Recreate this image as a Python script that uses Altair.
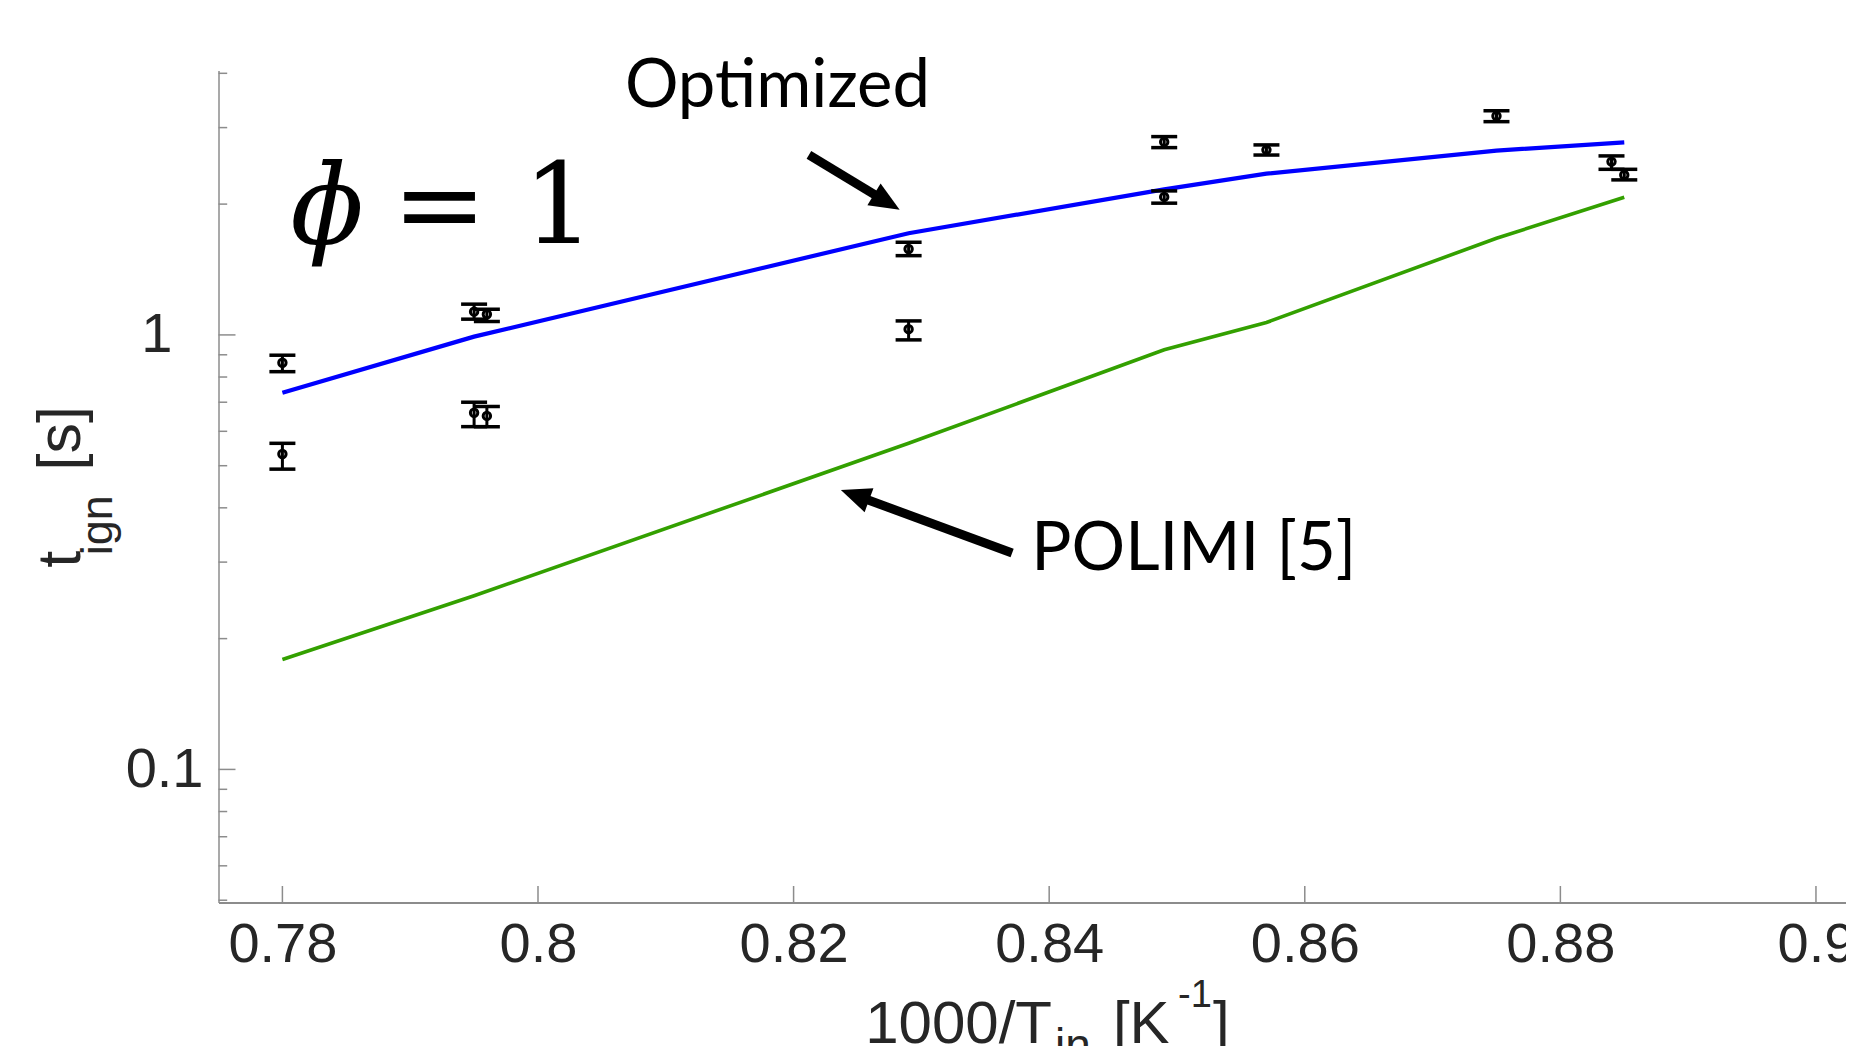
import math
import altair as alt
import pandas as pd

# ---------------- data ----------------
x_model = [0.780, 0.795, 0.829, 0.849, 0.857, 0.875, 0.885]
t_optimized = [0.736, 0.991, 1.714, 2.162, 2.350, 2.656, 2.775]
t_polimi = [0.179, 0.251, 0.563, 0.924, 1.068, 1.669, 2.074]

x_exp = [0.780, 0.780, 0.795, 0.796, 0.795, 0.796, 0.829, 0.829,
         0.849, 0.849, 0.857, 0.875, 0.884, 0.885]
t_exp = [0.863, 0.532, 1.131, 1.116, 0.662, 0.651, 1.577, 1.031,
         2.781, 2.078, 2.666, 3.190, 2.505, 2.334]
t_lo = [0.823, 0.491, 1.087, 1.073, 0.615, 0.615, 1.522, 0.974,
        2.698, 2.010, 2.594, 3.096, 2.405, 2.274]
t_hi = [0.898, 0.563, 1.177, 1.146, 0.700, 0.684, 1.634, 1.077,
        2.860, 2.145, 2.737, 3.280, 2.582, 2.405]

x_ticks = [0.78, 0.80, 0.82, 0.84, 0.86, 0.88, 0.90]
y_major = [0.1, 1]
y_minor = [0.05, 0.06, 0.07, 0.08, 0.09, 0.2, 0.3, 0.4, 0.5, 0.6, 0.7,
           0.8, 0.9, 2, 3, 4]

ann_text = ["Optimized", "POLIMI [5]"]
ann_x = [0.8068, 0.8386]
ann_y = [3.35, 0.288]

arrow_x_from = [0.8212, 0.8371]
arrow_y_from = [2.595, 0.3147]
arrow_x_to = [0.8283, 0.8237]
arrow_y_to = [1.940, 0.4399]

phi_x = [0.7835]
eq_x = [0.7886]
phi_y = [1.628]

# ---------------- layout ----------------
X_DOMAIN = [0.775, 0.90235]
Y_DOMAIN = [0.0494, 4.06]
W = 1627.5
H = 832.0
SANS = "Liberation Sans"
LABEL_COLOR = "#262626"
AXIS_GRAY = "#8c8c8c"
BLUE = "#0000ff"
GREEN = "#33a000"

LY0, LY1 = math.log10(Y_DOMAIN[0]), math.log10(Y_DOMAIN[1])


def to_px(x, y):
    px = (x - X_DOMAIN[0]) / (X_DOMAIN[1] - X_DOMAIN[0]) * W
    py = (LY1 - math.log10(y)) / (LY1 - LY0) * H
    return px, py


def from_px(px, py):
    x = X_DOMAIN[0] + px / W * (X_DOMAIN[1] - X_DOMAIN[0])
    y = 10 ** (LY1 - py / H * (LY1 - LY0))
    return x, y


xs = alt.Scale(domain=X_DOMAIN, nice=False, zero=False)
ys = alt.Scale(type="log", domain=Y_DOMAIN, nice=False)

xaxis = alt.Axis(values=x_ticks, format=".2~f", title=None, ticks=False,
                 grid=False, domain=True, domainColor=AXIS_GRAY, domainWidth=2,
                 labelFont=SANS, labelFontSize=56, labelColor=LABEL_COLOR,
                 labelPadding=15, labelFlush=False, labelOverlap=False,
                 labelBound=False)
yaxis = alt.Axis(values=y_major, format="~g", title=None, ticks=False,
                 grid=False, domain=True, domainColor=AXIS_GRAY, domainWidth=1.5,
                 labelFont=SANS, labelFontSize=56, labelColor=LABEL_COLOR,
                 labelAlign="right", labelBaseline="middle",
                 labelPadding={"condition": {"test": "datum.value == 1", "value": 46.5},
                               "value": 15.5},
                 labelOverlap=False)


def X(f):
    return alt.X(f, type="quantitative", scale=xs, axis=xaxis)


def Y(f):
    return alt.Y(f, type="quantitative", scale=ys, axis=yaxis)


model = pd.DataFrame({"x": x_model, "opt": t_optimized, "pol": t_polimi})
exp = pd.DataFrame({"x": x_exp, "t": t_exp, "lo": t_lo, "hi": t_hi})

line_opt = alt.Chart(model).mark_line(color=BLUE, strokeWidth=4.2).encode(x=X("x"), y=Y("opt"))
line_pol = alt.Chart(model).mark_line(color=GREEN, strokeWidth=3.6).encode(x=X("x"), y=Y("pol"))

err = alt.Chart(exp).mark_rule(color="black", strokeWidth=3).encode(
    x=X("x"), y=Y("lo"), y2="hi")
cap_lo = alt.Chart(exp).mark_tick(color="black", orient="horizontal", size=26,
                                  thickness=3.5, opacity=1).encode(x=X("x"), y=Y("lo"))
cap_hi = alt.Chart(exp).mark_tick(color="black", orient="horizontal", size=26,
                                  thickness=3.5, opacity=1).encode(x=X("x"), y=Y("hi"))
pts = alt.Chart(exp).mark_point(shape="circle", filled=False, size=55, strokeWidth=3,
                                color="black", opacity=1).encode(x=X("x"), y=Y("t"))

# inward axis ticks
xt = alt.Chart(pd.DataFrame({"v": x_ticks})).mark_rule(color=AXIS_GRAY, strokeWidth=1.5).encode(
    x=X("v"), y=alt.value(H), y2=alt.value(H - 16.5))
yt_major = alt.Chart(pd.DataFrame({"v": y_major})).mark_rule(color=AXIS_GRAY, strokeWidth=1.5).encode(
    y=Y("v"), x=alt.value(0), x2=alt.value(17))
yt_minor = alt.Chart(pd.DataFrame({"v": y_minor})).mark_rule(color=AXIS_GRAY, strokeWidth=1.5).encode(
    y=Y("v"), x=alt.value(0), x2=alt.value(8.7))

# annotations
ann = alt.Chart(pd.DataFrame({"x": ann_x, "y": ann_y, "s": ann_text})).mark_text(
    font="Lato", fontSize=67, color="black", align="left", baseline="alphabetic").encode(
    x=X("x"), y=Y("y"), text="s:N")

phi = alt.Chart(pd.DataFrame({"x": phi_x, "y": phi_y, "s": ["\u0278"]})).mark_text(
    font="DejaVu Serif", fontStyle="italic", fontSize=110, color="black",
    align="center", baseline="alphabetic").encode(x=X("x"), y=Y("y"), text="s:N")
eq = alt.Chart(pd.DataFrame({"x": eq_x, "y": phi_y, "s": ["= 1"]})).mark_text(
    font="DejaVu Serif", fontSize=113, color="black",
    align="left", baseline="alphabetic").encode(x=X("x"), y=Y("y"), text="s:N")

# arrows: shaft + head, geometry derived from the arrow endpoints
rows = []
for xf, yf, xt_, yt_ in zip(arrow_x_from, arrow_y_from, arrow_x_to, arrow_y_to):
    p0 = to_px(xf, yf)
    p1 = to_px(xt_, yt_)
    dx, dy = p1[0] - p0[0], p1[1] - p0[1]
    L = math.hypot(dx, dy)
    ux, uy = dx / L, dy / L
    se = from_px(p1[0] - 24 * ux, p1[1] - 24 * uy)
    ang = math.degrees(math.atan2(dy, dx)) % 360
    rows.append({"x0": xf, "y0": yf, "x1": se[0], "y1": se[1],
                 "xt": xt_, "yt": yt_, "ang": ang})
arrows = pd.DataFrame(rows)

shaft = alt.Chart(arrows).mark_rule(color="black", strokeWidth=9, strokeCap="butt").encode(
    x=X("x0"), y=Y("y0"), x2="x1", y2="y1")
head = alt.Chart(arrows).mark_point(shape="M0,0L-2,-0.85L-2,0.85Z", filled=True, size=900,
                                    color="black", opacity=1).encode(
    x=X("xt"), y=Y("yt"), angle=alt.Angle("ang:Q", scale=None))


# axis titles with sub/superscripts, composed of text pieces
def piece(s, x, y, size, angle=None):
    kw = dict(font=SANS, fontSize=size, color=LABEL_COLOR, align="left", baseline="alphabetic")
    if angle is not None:
        kw["angle"] = angle
    return alt.Chart(pd.DataFrame({"s": [s]})).mark_text(**kw).encode(
        x=alt.value(x), y=alt.value(y), text="s:N")


title_pieces = [
    piece("1000/T", 646.7, 972.8, 60),
    piece("in", 836.5, 990.0, 46),
    piece("[K", 894.4, 972.8, 60),
    piece("-1", 959.5, 936.5, 38),
    piece("]", 994.5, 972.8, 60),
    piece("t", -138.5, 497.2, 61, 270),
    piece("ign", -106.5, 484.8, 45, 270),
    piece("[s]", -138.5, 400.0, 61, 270),
]

chart = alt.layer(
    line_opt, line_pol, err, cap_lo, cap_hi, pts,
    xt, yt_major, yt_minor,
    ann, phi, eq, shaft, head,
    *title_pieces,
).properties(
    width=W, height=H,
    autosize=alt.AutoSizeParams(type="none"),
    padding={"left": 210.5, "top": 62.5, "right": 0, "bottom": 143.5},
    background="white",
).configure_view(stroke=None)

chart.save("out.html", embed_options={"renderer": "svg", "actions": False})
